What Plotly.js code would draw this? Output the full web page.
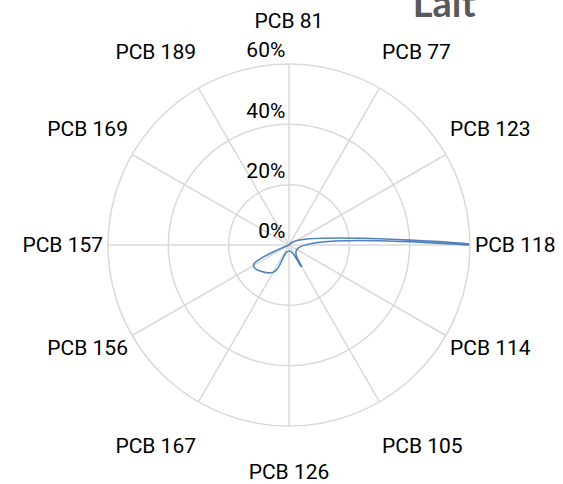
<!DOCTYPE html>
<html>
<head>
<meta charset="utf-8">
<script src="https://cdn.plot.ly/plotly-3.0.1.min.js"></script>
<style>html,body{margin:0;padding:0;background:#fff;}#chart{width:563px;height:484px;}</style>
</head>
<body>
<div id="chart"></div>
<script>
var categories = ["PCB 81","PCB 77","PCB 123","PCB 118","PCB 114","PCB 105","PCB 126","PCB 167","PCB 156","PCB 157","PCB 169","PCB 189"];
var values = [0, 0, 3, 62, 3, 8.2, 2, 10.4, 13.6, 0, 0, 0];
var radialTicks = [0, 20, 40, 60];
var radialTickLabels = ["0%", "20%", "40%", "60%"];

// label layout helpers: push top labels up / bottom labels down (blank line)
var upLabels = ["PCB 81", "PCB 77", "PCB 189", "PCB 123", "PCB 169"];
var downLabels = ["PCB 126", "PCB 105", "PCB 167"];
var angularTickText = categories.map(function (c) {
  if (upLabels.indexOf(c) >= 0) return c + "<br> ";
  if (downLabels.indexOf(c) >= 0) return " <br>" + c;
  return c;
});
var radialTickText = radialTickLabels.map(function (t) { return t + "<br> "; });

var theta = categories.concat([categories[0]]);
var r = values.concat([values[0]]);

var trace = {
  type: "scatterpolar",
  mode: "lines",
  r: r,
  theta: theta,
  line: {color: "#4F81BD", width: 1.6, shape: "spline", smoothing: 1.3},
  hoverinfo: "skip",
  showlegend: false
};

var layout = {
  width: 563, height: 484,
  margin: {l: 0, r: 0, t: 0, b: 0},
  paper_bgcolor: "#fff",
  showlegend: false,
  font: {family: "Roboto, sans-serif", size: 21, color: "#000"},
  title: {text: "<b>Lait</b>", font: {family: "Lato, sans-serif", size: 38, color: "#595959"},
          x: 0.789, xanchor: "center", xref: "paper", y: 0.993, yref: "container", yanchor: "middle"},
  polar: {
    domain: {x: [0.1918, 0.8348], y: [0.1198, 0.8678]},
    bgcolor: "#fff",
    angularaxis: {
      type: "category",
      categoryarray: categories,
      tickmode: "array",
      tickvals: categories,
      ticktext: angularTickText,
      direction: "clockwise",
      rotation: 90,
      showline: true,
      linecolor: "#d9d9d9",
      linewidth: 1.5,
      gridcolor: "#d9d9d9",
      gridwidth: 1.5,
      ticks: "",
      tickfont: {family: "Roboto, sans-serif", size: 21, color: "#000"}
    },
    radialaxis: {
      range: [0, 60],
      tickmode: "array",
      tickvals: radialTicks,
      ticktext: radialTickText,
      angle: 90,
      tickangle: 90,
      side: "counterclockwise",
      showline: false,
      gridcolor: "#d9d9d9",
      gridwidth: 1.5,
      ticks: "",
      tickfont: {family: "Roboto, sans-serif", size: 21, color: "#000"}
    }
  }
};

Plotly.newPlot("chart", [trace], layout, {displayModeBar: false, staticPlot: true});
</script>
</body>
</html>
